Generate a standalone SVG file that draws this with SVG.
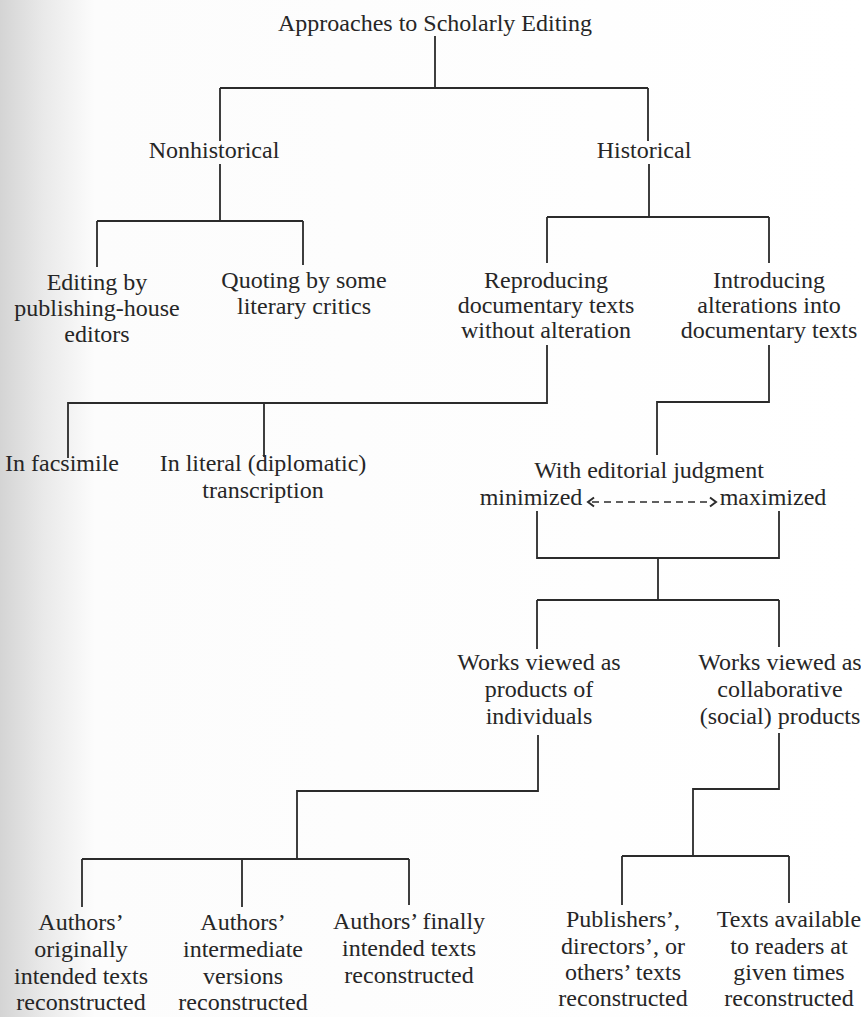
<svg xmlns="http://www.w3.org/2000/svg" width="861" height="1017" viewBox="0 0 861 1017">
<defs>
<linearGradient id="scan" x1="0" y1="0" x2="1" y2="0">
<stop offset="0" stop-color="#d4d4d4"/>
<stop offset="0.05" stop-color="#e9e9e9"/>
<stop offset="0.11" stop-color="#fcfcfc"/>
<stop offset="1" stop-color="#ffffff"/>
</linearGradient>
</defs>
<rect width="861" height="1017" fill="url(#scan)"/>

<g id="connectors" fill="none" stroke="#2b2b2b" stroke-width="1.8">
<path d="M435,36 V88 M220,88 H648 M220,88 V141 M648,88 V141"/>
<path d="M220,164 V221 M97,221 H303 M97,221 V267 M303,221 V265"/>
<path d="M649,164 V217 M547,217 H769 M547,217 V263 M769,217 V263"/>
<path d="M547,345 V403 H68 V458 M264,403 V457"/>
<path d="M769,345 V402 H657 V455"/>
<path d="M537,511 V558 H779 V511 M658,558 V600 M537,600 H779 M537,600 V649 M779,600 V647"/>
<path d="M538,735 V791 H297 V859 M82,859 H409 M82,859 V907 M242,859 V907 M409,859 V905"/>
<path d="M779,733 V789 H693 V856 M622,856 H789 M622,856 V905 M789,856 V903"/>
<path d="M592,502 H712" stroke-width="1.6" stroke-dasharray="7 5"/>
<path d="M594,497.5 L588,502 L594,506.5 M710,497.5 L716,502 L710,506.5" stroke-width="2"/>
</g>

<g id="labels" fill="#262626" font-family="'Times New Roman', 'Liberation Serif', serif" font-size="24" text-anchor="middle">
<g id="root"><text x="435" y="31">Approaches to Scholarly Editing</text></g>
<g id="nonhistorical"><text x="214" y="158">Nonhistorical</text></g>
<g id="historical"><text x="644" y="158">Historical</text></g>
<g id="editing-publishing"><text x="97" y="290">Editing by</text><text x="97" y="316">publishing-house</text><text x="97" y="342">editors</text></g>
<g id="quoting"><text x="304" y="288">Quoting by some</text><text x="304" y="314">literary critics</text></g>
<g id="reproducing"><text x="546" y="288">Reproducing</text><text x="546" y="313">documentary texts</text><text x="546" y="338">without alteration</text></g>
<g id="introducing"><text x="769" y="288">Introducing</text><text x="769" y="313">alterations into</text><text x="769" y="338">documentary texts</text></g>
<g id="facsimile"><text x="62" y="471">In facsimile</text></g>
<g id="literal"><text x="263" y="471">In literal (diplomatic)</text><text x="263" y="498">transcription</text></g>
<g id="judgment"><text x="649" y="478">With editorial judgment</text><text x="531" y="505">minimized</text><text x="773" y="505">maximized</text></g>
<g id="individuals"><text x="539" y="670">Works viewed as</text><text x="539" y="697">products of</text><text x="539" y="724">individuals</text></g>
<g id="collaborative"><text x="780" y="670">Works viewed as</text><text x="780" y="697">collaborative</text><text x="780" y="724">(social) products</text></g>
<g id="original"><text x="81" y="930">Authors’</text><text x="81" y="957">originally</text><text x="81" y="984">intended texts</text><text x="81" y="1010">reconstructed</text></g>
<g id="intermediate"><text x="243" y="930">Authors’</text><text x="243" y="957">intermediate</text><text x="243" y="984">versions</text><text x="243" y="1010">reconstructed</text></g>
<g id="final"><text x="409" y="929">Authors’ finally</text><text x="409" y="956">intended texts</text><text x="409" y="983">reconstructed</text></g>
<g id="publishers"><text x="623" y="927">Publishers’,</text><text x="623" y="954">directors’, or</text><text x="623" y="980">others’ texts</text><text x="623" y="1006">reconstructed</text></g>
<g id="readers"><text x="789" y="927">Texts available</text><text x="789" y="954">to readers at</text><text x="789" y="980">given times</text><text x="789" y="1006">reconstructed</text></g>
</g>
</svg>
